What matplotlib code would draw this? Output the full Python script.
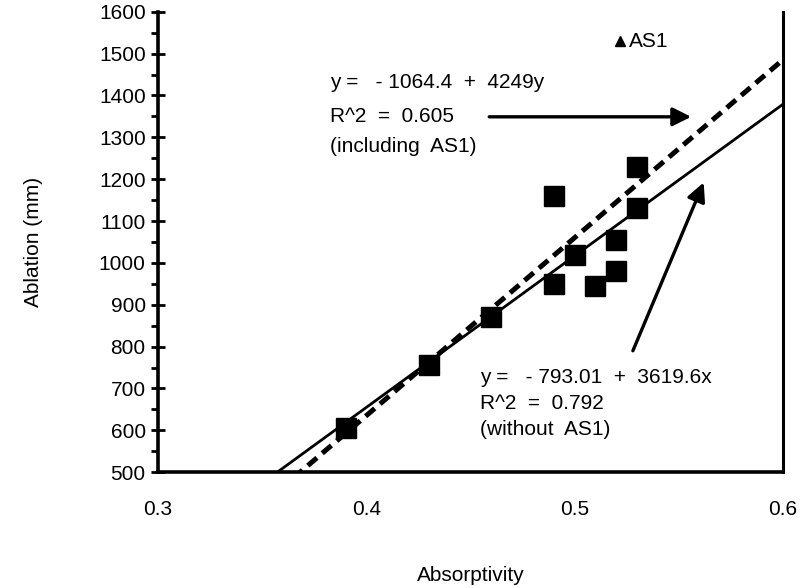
# ==== IMPORT ================================================================ #

import matplotlib
matplotlib.use("Agg")

import matplotlib.pyplot as plt
import numpy             as np

# ==== DATA ================================================================== #

absorptivity = [0.39, 0.43, 0.46, 0.49, 0.49, 0.50, 0.51, 0.52, 0.52, 0.53, 0.53]
ablation     = [605, 755, 870, 950, 1160, 1020, 945, 1055, 980, 1130, 1230]

as1_x     = [0.522]
as1_y     = [1530]
as1_label = "AS1"

fit_all = (-1064.4, 4249.0)     # including AS1 (dashed)
fit_sub = (-793.01, 3619.6)     # without AS1 (solid)

lines_all = ["y =   - 1064.4  +  4249y", "R^2  =  0.605", "(including  AS1)"]
lines_sub = ["y =   - 793.01  +  3619.6x", "R^2  =  0.792", "(without  AS1)"]
ypos_all  = [1430, 1349, 1277]
ypos_sub  = [727, 665, 602]

x_ticks = [0.3, 0.4, 0.5, 0.6]
y_ticks = list(range(500, 1700, 100))

# ==== FUNCTIONS ============================================================= #

def draw():

    plt.rcParams['font.family'] = ['Liberation Sans', 'DejaVu Sans']

    fig = plt.figure(figsize = (8.07, 5.88), dpi = 100)
    ax  = fig.add_axes([0.196, 0.197, 0.774, 0.783])

    xx = np.linspace(0.3, 0.6, 200)
    ax.plot(xx, fit_sub[0] + fit_sub[1] * xx, color = 'black', lw = 2.0)
    ax.plot(xx, fit_all[0] + fit_all[1] * xx, color = 'black', lw = 3.6,
            linestyle = (0, (2.4, 1.4)))

    ax.plot(absorptivity, ablation, 's', color = 'black', ms = 14,
            clip_on = False, zorder = 3)
    ax.plot(as1_x, as1_y, '^', color = 'black', ms = 7, zorder = 3)
    ax.text(as1_x[0] + 0.004, as1_y[0], as1_label, fontsize = 15,
            va = 'center', ha = 'left')

    for s, y in zip(lines_all, ypos_all):
        ax.text(0.3826, y, s, fontsize = 15, va = 'center', ha = 'left')
    for s, y in zip(lines_sub, ypos_sub):
        ax.text(0.4546, y, s, fontsize = 15, va = 'center', ha = 'left')

    arrow = dict(arrowstyle = '-|>', mutation_scale = 28, lw = 2.4,
                 color = 'black', shrinkA = 0, shrinkB = 0)
    ax.annotate('', xy = (0.556, 1349), xytext = (0.459, 1349),
                arrowprops = arrow)
    ax.annotate('', xy = (0.562, 1192), xytext = (0.528, 790),
                arrowprops = arrow)

    ax.set_xlim(0.3, 0.6)
    ax.set_ylim(500, 1600)
    ax.set_xticks(x_ticks)
    ax.set_xticklabels([f"{t:.1f}" for t in x_ticks])
    ax.set_yticks(y_ticks)
    ax.set_yticks(np.arange(550, 1600, 100), minor = True)

    ax.tick_params(axis = 'x', length = 0, labelsize = 15, pad = 20)
    ax.tick_params(axis = 'y', which = 'major', direction = 'inout',
                   length = 10, width = 2, labelsize = 15, pad = 4)
    ax.tick_params(axis = 'y', which = 'minor', direction = 'out',
                   length = 5, width = 2)

    ax.spines['top'].set_visible(False)
    ax.spines['left'].set_linewidth(2.6)
    ax.spines['bottom'].set_linewidth(2.6)
    ax.spines['right'].set_linewidth(2.2)

    ax.set_xlabel("Absorptivity", fontsize = 15, labelpad = 34)
    ax.set_ylabel("Ablation (mm)", fontsize = 15, labelpad = 40)

    fig.savefig("out.png", dpi = 100)

# ==== MAIN ================================================================== #

def main():

    draw()


if __name__ == "__main__":

    main()
